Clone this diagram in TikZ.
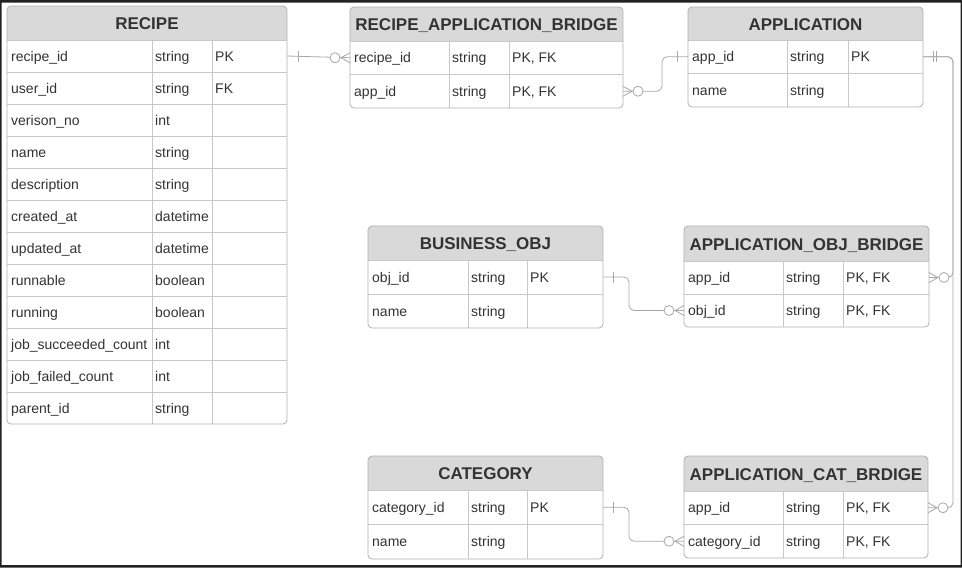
\documentclass[tikz,border=0pt]{standalone}
\usepackage{fontspec}
\setmainfont{Liberation Sans}
\usetikzlibrary{calc}
\definecolor{hdr}{HTML}{D9D9D9}
\definecolor{bordc}{HTML}{B0B0B0}
\definecolor{linec}{HTML}{C8C8C8}
\definecolor{connc}{HTML}{A8A8A8}
\definecolor{txt}{HTML}{333333}
\definecolor{frame}{HTML}{222222}
\tikzset{
 tbl/.style={draw=bordc, line width=0.8pt, rounded corners=4pt, inner sep=0pt, outer sep=0pt},
 ttl/.style={font=\fontsize{17}{20}\selectfont\bfseries, text=txt, inner sep=0pt},
 cell/.style={font=\fontsize{14}{16}\selectfont, text=txt, inner sep=0pt, anchor=base west},
 gridline/.style={draw=linec, line width=0.8pt},
 conn/.style={draw=connc, line width=0.8pt},
}
\newcommand\ertable[4]{%
 \foreach \xl/\xa/\xb/\xr/\yt/\yh/\rh/\nr in {#3}{%
  \pgfmathsetmacro\yb{\yh+\nr*\rh}%
  \pgfmathsetmacro\tw{\xr-\xl}%
  \pgfmathsetmacro\th{\yb-\yt}%
  \begin{scope}
   \clip[rounded corners=4pt] (\xl,\yt) rectangle (\xr,\yb);
   \fill[hdr] (\xl,\yt) rectangle (\xr,\yh);
  \end{scope}
  \foreach \k in {1,...,\nr}{\draw[gridline] (\xl,{\yh+(\k-1)*\rh}) -- (\xr,{\yh+(\k-1)*\rh});}
  \draw[gridline] (\xa,\yh) -- (\xa,\yb) (\xb,\yh) -- (\xb,\yb);
  \node[tbl, minimum width=\tw pt, minimum height=\th pt, anchor=north west] (#1) at (\xl,\yt) {};
  \node[ttl, anchor=base] (#1-t) at ({(\xl+\xr)/2},{(\yt+\yh)/2+6.5}) {#2};
  \foreach \a/\b/\c [count=\i] in {#4}{%
   \pgfmathsetmacro\yc{\yh+(\i-0.5)*\rh}%
   \node[cell] (#1-\i-a) at ({\xl+4},{\yc+5}) {\a};
   \node[cell] (#1-\i-b) at ({\xa+3},{\yc+5}) {\b};
   \node[cell] (#1-\i-c) at ({\xb+3},{\yc+5}) {\c};
   \coordinate (#1-\i-W) at (\xl,\yc);
   \coordinate (#1-\i-E) at (\xr,\yc);
  }
 }
}
% crow's foot marks
\newcommand\zmW[1]{%
 \draw[conn] ([xshift=-9pt]#1) -- ([yshift=5pt]#1) ([xshift=-9pt]#1) -- ([yshift=-5pt]#1);
 \draw[conn,fill=white] ([xshift=-15pt]#1) circle[radius=5pt];}
\newcommand\zmE[1]{%
 \draw[conn] ([xshift=9pt]#1) -- ([yshift=5pt]#1) ([xshift=9pt]#1) -- ([yshift=-5pt]#1);
 \draw[conn,fill=white] ([xshift=15pt]#1) circle[radius=5pt];}
\newcommand\onebar[2]{%
 \draw[conn] ([xshift=#2,yshift=5.5pt]#1) -- ([xshift=#2,yshift=-5.5pt]#1);}
\begin{document}
\begin{tikzpicture}[x=1pt,y=-1pt]
\useasboundingbox (0,0) rectangle (962,568);
\fill[white] (0,0) rectangle (962,568);
\fill[frame, even odd rule] (0,0) rectangle (962,567.5) (1.5,2.5) rectangle (960.5,565);

\ertable{recipe}{RECIPE}{7/152/212/287/6/40/32/12}{%
 recipe\_id/string/PK, user\_id/string/FK, verison\_no/int/{}, name/string/{},
 description/string/{}, created\_at/datetime/{}, updated\_at/datetime/{},
 runnable/boolean/{}, running/boolean/{}, job\_succeeded\_count/int/{},
 job\_failed\_count/int/{}, parent\_id/string/{}}
\ertable{rab}{RECIPE\_APPLICATION\_BRIDGE}{350/449/509/623/7/41/33.5/2}{%
 recipe\_id/string/{PK, FK}, app\_id/string/{PK, FK}}
\ertable{app}{APPLICATION}{688/787/848/923/7/40/33.5/2}{%
 app\_id/string/PK, name/string/{}}
\ertable{bus}{BUSINESS\_OBJ}{368/468/527/603/226/260/34/2}{%
 obj\_id/string/PK, name/string/{}}
\ertable{cat}{CATEGORY}{368/468/527/603/456/490/34.5/2}{%
 category\_id/string/PK, name/string/{}}
\ertable{aob}{APPLICATION\_OBJ\_BRIDGE}{684/783/843/929/226/261/33/2}{%
 app\_id/string/{PK, FK}, obj\_id/string/{PK, FK}}
\ertable{acb}{APPLICATION\_CAT\_BRDIGE}{684/783/843/928/456/491/33.5/2}{%
 app\_id/string/{PK, FK}, category\_id/string/{PK, FK}}

% connectors
\draw[conn] (recipe-1-E) -- (rab-1-W);
\onebar{recipe-1-E}{11pt}
\zmW{rab-1-W}

\draw[conn, rounded corners=5pt] (rab-2-E) -- ++(39,0) |- (app-1-W);
\zmE{rab-2-E}
\onebar{app-1-W}{-11pt}

\draw[conn, rounded corners=5pt] (app-1-E) -- ++(30,0) |- (aob-1-E);
\draw[conn, rounded corners=5pt] (app-1-E) -- ++(30,0) |- (acb-1-E);
\onebar{app-1-E}{10pt}
\onebar{app-1-E}{13.5pt}
\zmE{aob-1-E}
\zmE{acb-1-E}

\draw[conn, rounded corners=5pt] (bus-1-E) -- ++(26,0) |- (aob-2-W);
\onebar{bus-1-E}{10pt}
\zmW{aob-2-W}

\draw[conn, rounded corners=5pt] (cat-1-E) -- ++(26,0) |- (acb-2-W);
\onebar{cat-1-E}{10pt}
\zmW{acb-2-W}
\end{tikzpicture}
\end{document}
